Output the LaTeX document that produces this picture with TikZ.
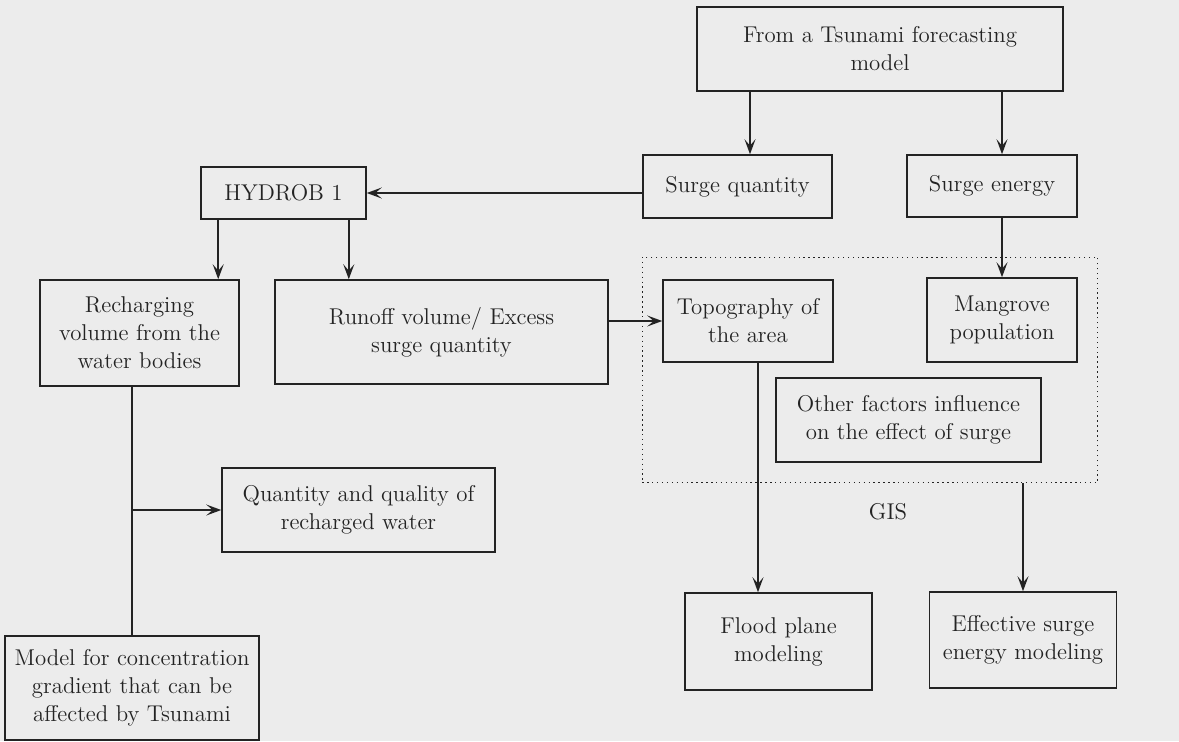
\documentclass[tikz,border=0pt]{standalone}
\usepackage{tikz}
\usetikzlibrary{arrows.meta, positioning, fit, calc}
\definecolor{cInk}{RGB}{35,35,35}
\definecolor{cPage}{RGB}{236,236,236}
\tikzset{
	box/.style ={rectangle, draw=cInk, line width=0.9pt, align=center, text=cInk, inner sep=2pt},
	gisbox/.style={rectangle, draw=cInk, line width=0.8pt, dotted, inner sep=0.4cm},
	flow/.style={-{Stealth[length=3mm, width=2.2mm, inset=1.3mm]}, line width=0.9pt, draw=cInk},
	plain/.style={line width=0.9pt, draw=cInk},
}

\begin{document}
\begin{tikzpicture}[x=0.02cm, y=-0.02cm, every node/.style={font=\fontsize{13}{16}\selectfont}]
	\fill[cPage] (0,0) rectangle (1179,741);
	\useasboundingbox (0,0) rectangle (1179,741);
	% top row
	\node[box, minimum width=7.32cm, minimum height=1.68cm] (tsu) at (880,49) {From a Tsunami forecasting\\ model};
	\node[box, minimum width=3.78cm, minimum height=1.26cm] (squant) at (737.5,186.5) {Surge quantity};
	\node[box, minimum width=3.4cm, minimum height=1.24cm] (senergy) at (992,186) {Surge energy};
	\node[box, minimum width=3.3cm, minimum height=1.04cm] (hyd) at (283.5,193) {HYDROB 1};
	% second row
	\node[box, minimum width=3.98cm, minimum height=2.12cm] (rech) at (139.5,333) {Recharging\\ volume from the\\ water bodies};
	\node[box, minimum width=6.66cm, minimum height=2.08cm] (runoff) at (441.5,332) {Runoff volume/ Excess\\ surge quantity};
	\node[box, minimum width=3.4cm, minimum height=1.64cm] (topo) at (748,321) {Topography of\\ the area};
	\node[box, minimum width=3.0cm, minimum height=1.68cm] (mang) at (1002,320) {Mangrove\\ population};
	\node[box, minimum width=5.3cm, minimum height=1.68cm] (other) at (908.5,420) {Other factors influence\\ on the effect of surge};
	\node[gisbox, fit=(topo) (mang) (other)] (gis) {};
	\node[text=cInk] (gislbl) at (888,512) {GIS};
	% bottom
	\node[box, minimum width=5.46cm, minimum height=1.68cm] (qual) at (358.5,510) {Quantity and quality of\\ recharged water};
	\node[box, minimum width=5.08cm, minimum height=2.08cm] (model) at (132,688) {Model for concentration\\ gradient that can be\\ affected by Tsunami};
	\node[box, minimum width=3.74cm, minimum height=1.94cm] (flood) at (778.5,641.5) {Flood plane\\ modeling};
	\node[box, minimum width=3.74cm, minimum height=1.92cm] (eff) at (1023,640) {Effective surge\\ energy modeling};

	\draw[flow] ([xshift=0.25cm]squant.north |- tsu.south) -- ([xshift=0.25cm]squant.north);
	\draw[flow] (tsu.south -| mang.north) -- (senergy.north -| mang.north);
	\draw[flow] (senergy.south -| mang.north) -- (mang.north);
	\draw[flow] (squant.west |- hyd.east) -- (hyd.east);
	\draw[flow] ([xshift=0.36cm]hyd.south west) -- ([xshift=0.36cm]hyd.south west |- rech.north);
	\draw[flow] ([xshift=-0.36cm]hyd.south east) -- ([xshift=-0.36cm]hyd.south east |- runoff.north);
	\draw[flow] (runoff.east |- topo.west) -- (topo.west);
	\draw[flow] ([xshift=0.2cm]topo.south) -- ([xshift=0.2cm]topo.south |- flood.north);
	\draw[flow] (gis.south -| eff.north) -- (eff.north);
	\draw[plain] (model.north |- rech.south) -- (model.north);
	\draw[flow] (model.north |- qual.west) -- (qual.west);
\end{tikzpicture}
\end{document}
